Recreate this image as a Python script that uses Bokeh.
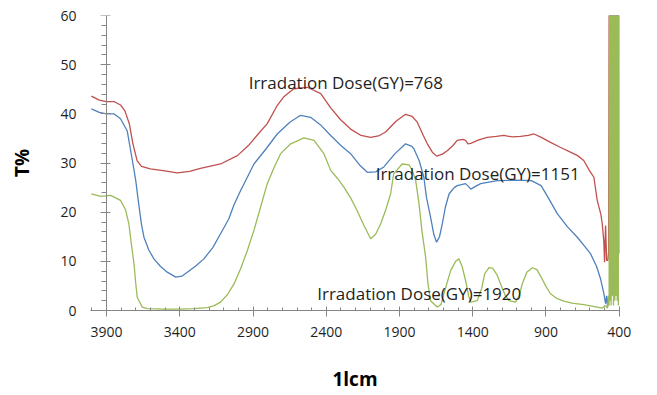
from bokeh.plotting import figure
from bokeh.models import Range1d, FixedTicker, Label, LinearAxis
from bokeh.embed import file_html
from bokeh.resources import INLINE

# ---- data (wavenumber cm^-1, transmittance %) ----
red_wn = [4004, 3950, 3900, 3850, 3805, 3775, 3745, 3721, 3692, 3662, 3602, 3503, 3418, 3334, 3259,
          3122, 3007, 2930, 2868, 2803, 2739, 2692, 2622, 2530, 2438, 2370, 2302, 2234, 2163,
          2097, 2044, 1995, 1924, 1859, 1815, 1779, 1736, 1710, 1676, 1647, 1607, 1574, 1537,
          1506, 1468, 1449, 1433, 1414, 1359, 1301, 1239, 1187, 1130, 1074, 1021, 982, 932,
          869, 803, 733, 684, 642, 604, 573, 550, 525, 516, 505, 500, 493, 486, 477,
          472, 468, 464, 459, 455, 450, 446, 441, 436, 431, 426, 420, 415, 410, 406, 402, 400]
red_t = [43.6, 42.8, 42.5, 42.5, 41.8, 40.6, 38.0, 34.0, 30.5, 29.3, 28.8, 28.4, 28.0, 28.3, 28.9,
         29.8, 31.5, 33.6, 35.8, 38.0, 41.5, 43.4, 45.1, 45.4, 44.1, 41.2, 38.8, 36.9, 35.6,
         35.2, 35.5, 36.3, 38.5, 39.9, 39.5, 38.3, 35.5, 33.9, 32.2, 31.4, 31.8, 32.5, 33.5,
         34.6, 34.8, 34.6, 33.9, 34.0, 34.7, 35.2, 35.4, 35.6, 35.3, 35.4, 35.6, 35.9, 35.2,
         34.2, 33.2, 32.2, 31.5, 30.5, 28.5, 27.1, 22.4, 19.5, 17.7, 14.0, 9.8, 17.3, 10.2, 10.2,
         12.0, 70.0, 14.0, 72.0, 18.0, 70.0, 15.0, 72.0, 20.0, 70.0, 16.0, 72.0, 20.0, 70.0, 18.0, 70.0, 11.6]

blue_wn = [4004, 3950, 3900, 3850, 3805, 3759, 3721, 3701, 3684, 3662, 3645, 3612, 3577, 3533,
           3486, 3428, 3384, 3349, 3294, 3236, 3175, 3122, 3066, 3030, 2985, 2951, 2894, 2808,
           2735, 2649, 2576, 2507, 2441, 2370, 2302, 2234, 2173, 2120, 2063, 2007, 1934, 1859,
           1815, 1802, 1766, 1734, 1716, 1688, 1666, 1647, 1627, 1608, 1587, 1562, 1527, 1506,
           1449, 1428, 1414, 1378, 1346, 1289, 1233, 1120, 1000, 933, 882, 823, 753, 686, 634,
           595, 555, 527, 505, 493, 486, 480, 472, 465, 460, 452, 446, 438, 432, 424, 418, 410,
           404, 400]
blue_t = [41.0, 40.3, 40.0, 40.0, 39.0, 36.5, 30.0, 26.4, 22.4, 17.5, 14.9, 12.3, 10.5, 9.0,
          7.8, 6.8, 7.0, 7.8, 9.0, 10.5, 12.8, 15.6, 18.6, 21.5, 24.4, 26.4, 29.8, 33.0,
          35.9, 38.3, 39.7, 39.3, 37.8, 35.6, 33.6, 31.9, 29.6, 28.1, 28.2, 29.2, 31.8, 33.9,
          33.4, 32.9, 30.5, 27.1, 23.0, 19.0, 15.5, 13.9, 15.0, 17.6, 21.0, 23.7, 25.0, 25.4,
          25.8, 25.2, 24.7, 25.3, 25.8, 26.1, 26.4, 26.5, 26.4, 25.4, 22.8, 19.7, 17.0, 14.9, 13.0,
          11.5, 9.0, 6.4, 3.5, 1.4, 3.0, 0.8, 3.0, 2.0, 68.0, 3.0, 70.0, 4.0, 72.0, 3.0, 70.0, 4.0,
          69.0, 62.0]

green_wn = [4004, 3941, 3872, 3805, 3771, 3748, 3731, 3713, 3701, 3691, 3657, 3622, 3503, 3404,
            3304, 3212, 3165, 3122, 3076, 3030, 2985, 2939, 2892, 2849, 2803, 2758, 2712, 2643,
            2590, 2553, 2484, 2416, 2370, 2322, 2280, 2232, 2189, 2143, 2097, 2063, 2029, 1994,
            1961, 1940, 1882, 1835, 1813, 1790, 1768, 1746, 1722, 1706, 1688, 1643, 1617, 1597,
            1551, 1517, 1495, 1473, 1449, 1428, 1414, 1369, 1339, 1318, 1289, 1265, 1235, 1210,
            1180, 1153, 1107, 1081, 1062, 1031, 993, 962, 933, 902, 869, 823, 777, 723, 642,
            550, 515, 495, 480, 474, 469, 466, 463, 459, 455, 451, 447, 443, 439, 434, 430,
            426, 422, 418, 414, 410, 406, 403, 400]
green_t = [23.7, 23.2, 23.4, 22.4, 20.5, 17.6, 13.5, 9.5, 5.5, 2.7, 0.7, 0.4, 0.3, 0.3,
           0.4, 0.6, 1.0, 1.7, 3.2, 5.4, 8.5, 12.2, 16.5, 21.0, 25.8, 29.0, 31.9, 33.9,
           34.6, 35.1, 34.6, 31.9, 28.5, 26.8, 25.1, 22.8, 20.3, 17.3, 14.6, 15.5, 17.6, 20.5,
           23.7, 27.8, 29.8, 29.6, 28.5, 26.5, 22.0, 16.0, 10.9, 5.5, 2.0, 0.7, 1.2, 3.4,
           8.1, 10.0, 10.5, 9.0, 6.1, 3.0, 1.7, 2.0, 4.5, 7.5, 8.7, 8.6, 7.3, 5.4,
           3.2, 2.0, 1.7, 3.2, 5.4, 7.8, 8.7, 8.3, 6.8, 5.0, 3.4, 2.4, 1.9, 1.5, 1.2,
           0.7, 0.5, 1.0, 0.5, 3.0, 1.0, 70.0, 2.0, 75.0, 1.0, 70.0, 3.0, 72.0, 1.0, 68.0, 2.0,
           74.0, 3.0, 70.0, 2.0, 72.0, 1.0, 70.0, 65.0]

x_major = [3900, 3400, 2900, 2400, 1900, 1400, 900, 400]
x_minor = [v for v in range(4000, 400, -100) if v not in x_major]
y_major = [0, 10, 20, 30, 40, 50, 60]
y_minor = [v for v in range(0, 61, 2) if v % 10 != 0]

labels = ["Irradation Dose(GY)=768", "Irradation Dose(GY)=1151", "Irradation Dose(GY)=1920"]
label_x = [2930, 2063, 2462]
label_y = [46.4, 27.9, 3.4]

series_colors = ["#c0504d", "#4f81bd", "#9bbb59"]

FONT = "Open Sans"
TEXT = "#1f1f1f"
AX = "#868686"

p = figure(width=657, height=395, output_backend="svg", toolbar_location=None,
           x_range=Range1d(4010, 398), y_range=Range1d(0, 60),
           min_border_left=90, min_border_right=38, min_border_top=15, min_border_bottom=85)
p.outline_line_color = None
p.grid.visible = False
p.background_fill_color = "white"
p.border_fill_color = "white"

for wn, t, c in zip([red_wn, blue_wn, green_wn], [red_t, blue_t, green_t], series_colors):
    p.line(wn, t, line_color=c, line_width=1.3)

for txt, lx, ly in zip(labels, label_x, label_y):
    p.add_layout(Label(x=lx, y=ly, text=txt, text_font=FONT, text_font_size="17px",
                       text_color=TEXT, text_align="left", text_baseline="middle"))

# x axis
xa = p.xaxis[0]
xa.ticker = FixedTicker(ticks=x_major, minor_ticks=x_minor)
xa.axis_label = "1lcm"
xa.axis_line_color = AX
xa.major_tick_line_color = AX
xa.minor_tick_line_color = AX
xa.major_label_text_font = FONT
xa.major_label_text_font_size = "14px"
xa.major_label_text_color = TEXT
xa.axis_label_text_font = FONT
xa.axis_label_text_font_size = "19px"
xa.axis_label_text_font_style = "bold"
xa.axis_label_text_color = "#000000"
xa.major_tick_in = 4
xa.major_tick_out = 6
xa.minor_tick_in = 3
xa.minor_tick_out = 0
xa.major_label_standoff = 10
xa.axis_label_standoff = 26

# y axis: labels + title next to the frame (no line / ticks)
ya = p.yaxis[0]
ya.ticker = FixedTicker(ticks=y_major, minor_ticks=y_minor)
ya.axis_label = "T%"
ya.axis_line_color = None
ya.major_tick_line_color = None
ya.minor_tick_line_color = None
ya.major_tick_out = 0
ya.major_tick_in = 0
ya.minor_tick_out = 0
ya.minor_tick_in = 0
ya.major_label_standoff = 14
ya.major_label_text_font = FONT
ya.major_label_text_font_size = "14px"
ya.major_label_text_color = TEXT
ya.axis_label_text_font = FONT
ya.axis_label_text_font_size = "19px"
ya.axis_label_text_font_style = "bold"
ya.axis_label_text_color = "#000000"
ya.axis_label_standoff = 22

# y axis line and ticks, crossing the x axis at 3900
yline = LinearAxis(ticker=FixedTicker(ticks=y_major, minor_ticks=y_minor), fixed_location=3900)
yline.axis_line_color = AX
yline.major_tick_line_color = AX
yline.minor_tick_line_color = AX
yline.major_tick_in = 4
yline.major_tick_out = 6
yline.minor_tick_in = 0
yline.minor_tick_out = 5
yline.major_label_text_color = None
yline.major_label_text_font_size = "1px"
yline.major_label_standoff = 0
p.add_layout(yline, "left")

open("out.html", "w").write(file_html(p, INLINE))
